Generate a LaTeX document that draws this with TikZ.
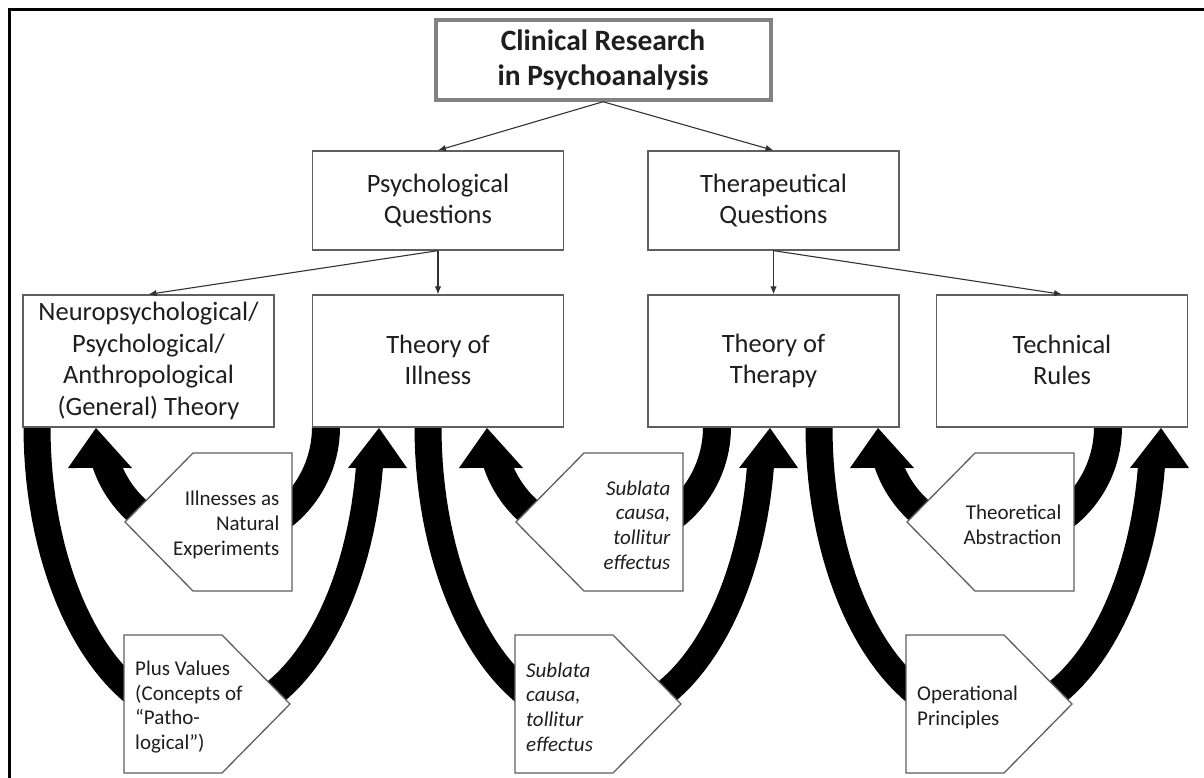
\documentclass[tikz,border=0pt]{standalone}
\usepackage{fontspec}
\setmainfont{Carlito}
\usetikzlibrary{arrows.meta}
\definecolor{boxline}{RGB}{95,95,95}
\definecolor{titleline}{RGB}{130,130,130}
\definecolor{linkline}{RGB}{50,50,50}
\definecolor{ink}{RGB}{30,30,30}
% uniform line height so every box centres its lines the same way
\newcommand{\topstrut}{\rule{0pt}{20pt}}
\newcommand{\botstrut}{\rule[-2pt]{0pt}{2pt}}
\begin{document}
\begin{tikzpicture}[x=1pt,y=-1pt,
  box/.style={draw=boxline, line width=1.3pt, fill=white, minimum width=251pt,
    align=center, inner sep=2pt, text=ink, font=\fontsize{26.5}{31.5}\selectfont,
    execute at begin node=\topstrut, execute at end node=\botstrut},
  titlebox/.style={draw=titleline, line width=4pt, fill=white, minimum width=335pt,
    minimum height=79.5pt, align=center, inner sep=2pt, text=ink,
    font=\fontsize{29.5}{34.5}\selectfont\bfseries},
  link/.style={draw=linkline, line width=1.1pt, -{Latex[length=8pt,width=6.5pt]}},
  band/.style={fill=black},
  pent/.style={draw=boxline, line width=1.3pt, fill=white, line join=miter},
  ptxt/.style={inner sep=0pt, text=ink, font=\fontsize{21}{24.8}\selectfont},
  ptxti/.style={inner sep=0pt, text=ink, font=\fontsize{21}{24.8}\selectfont\itshape}]

\useasboundingbox (0,0) rectangle (1204,778);

% outer frame (open on the right and at the bottom)
\draw[line width=2.6pt] (9.5,778) -- (9.5,9.5) -- (1204,9.5);

% thick black loop arrows, one pair per column group
\foreach \off in {0,391,782}{
  % large loop: from the left box down and round, up into the next box
  \fill[band] (204+\off-180.5,424)
    -- plot[domain=0:172.31, samples=70] ({204+\off-180.5*cos(\x)},{427+306.5*sin(\x)})
    -- (407+\off,468) -- (379+\off,428) -- (348+\off,468)
    -- plot[domain=8.43:180, samples=70] ({204+\off+153.5*cos(\x)},{427+279.5*sin(\x)})
    -- (204+\off-153.5,424) -- cycle;
  % small loop: from the right box down and back up into the left one
  \fill[band] (340+\off,424)
    -- plot[domain=0:161.17, samples=60] ({213+\off+127*cos(\x)},{427+127*sin(\x)})
    -- (68+\off,468) -- (96+\off,428) -- (132+\off,468)
    -- plot[domain=0:155.54, samples=60] ({213+\off+99*cos(155.54-\x)},{427+99*sin(155.54-\x)})
    -- (312+\off,424) -- cycle;
}

% title and question boxes
\node[titlebox] (title) at (603,60) {Clinical Research\\in Psychoanalysis};
\node[box, minimum height=99pt] (psy) at (438,200.5) {Psychological\\Questions};
\node[box, minimum height=99pt] (ther) at (773.5,200.5) {Therapeutical\\Questions};

% theory boxes
\node[box, minimum height=132pt] (gen) at (148.5,361)
  {Neuropsychological/\\Psychological/\\Anthropological\\(General) Theory};
\node[box, minimum height=132pt] (ill) at (438,361) {Theory of\\Illness};
\node[box, minimum height=132pt] (thy) at (773.5,361) {Theory of\\Therapy};
\node[box, minimum height=132pt] (rules) at (1062,361) {Technical\\Rules};

% connectors
\draw[link] (title.south) -- (psy.north);
\draw[link] (title.south) -- (ther.north);
\draw[link] (psy.south) -- (gen.north);
\draw[link] (psy.south) -- (ill.north);
\draw[link] (ther.south) -- (thy.north);
\draw[link] (ther.south) -- (rules.north);

% pentagon labels laid over the loops
\foreach \off in {0,391,782}{
  \draw[pent] (125+\off,522) -- (193+\off,453) -- (292+\off,453)
    -- (292+\off,591) -- (193+\off,591) -- cycle;
  \draw[pent] (124+\off,635) -- (222+\off,635) -- (290+\off,704)
    -- (222+\off,773) -- (124+\off,773) -- cycle;
}
\node[ptxt, anchor=east, align=right] (nat) at (279.5,525)
  {Illnesses as\\Natural\\Experiments};
\node[ptxti, anchor=east, align=right] (sub1) at (670.5,525)
  {Sublata\\causa,\\tollitur\\effectus};
\node[ptxt, anchor=east, align=right] (abs) at (1061.5,525)
  {Theoretical\\Abstraction};
\node[ptxt, anchor=west, align=left] (plus) at (135,707)
  {Plus Values\\(Concepts of\\“Patho-\\logical”)};
\node[ptxti, anchor=west, align=left] (sub2) at (526,707)
  {Sublata\\causa,\\tollitur\\effectus};
\node[ptxt, anchor=west, align=left] (ops) at (917,707)
  {Operational\\Principles};
\end{tikzpicture}
\end{document}
